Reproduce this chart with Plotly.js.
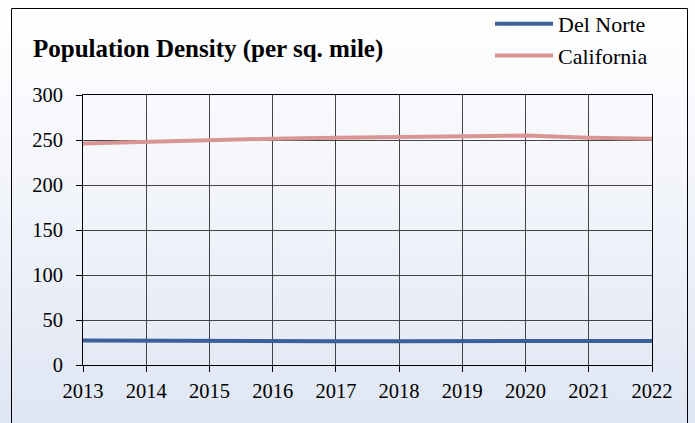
<!DOCTYPE html>
<html>
<head>
<meta charset="utf-8">
<script src="https://cdn.plot.ly/plotly-3.0.1.min.js"></script>
<style>
html,body{margin:0;padding:0;}
#chart{width:695px;height:423px;background:linear-gradient(to bottom,#ffffff 0%,#f4f6fb 40%,#dfe6f3 100%);}
</style>
</head>
<body>
<div id="chart"></div>
<script>
const years = ["2013","2014","2015","2016","2017","2018","2019","2020","2021","2022"];
const delNorte = [27.2, 26.8, 26.0, 26.0, 26.3, 26.5, 26.8, 26.9, 27.3, 26.7];
const california = [246, 248, 249.5, 251.5, 252.5, 253.5, 254.5, 255, 252.5, 251.5];
const seriesNames = ["Del Norte", "California"];
const yTicks = [0, 50, 100, 150, 200, 250, 300];

const L = 83, R = 652, T = 95, B = 365, W = 695, H = 423;
const px2x = p => (p - L) / (R - L);
const py2y = p => (B - p) / (B - T);
const SERIF = "Liberation Serif";

const traces = [
  {x: years, y: delNorte, name: seriesNames[0], type: "scatter", mode: "lines",
   line: {color: "#3b6098", width: 4}},
  {x: years, y: california, name: seriesNames[1], type: "scatter", mode: "lines",
   line: {color: "#d99594", width: 4}}
];

const tickFont = {family: SERIF, size: 20.5, color: "#000"};

const layout = {
  width: W, height: H,
  margin: {l: L, r: W - R, t: T, b: H - B, pad: 0, autoexpand: false},
  paper_bgcolor: "rgba(0,0,0,0)",
  plot_bgcolor: "rgba(0,0,0,0)",
  font: tickFont,
  title: {text: "<b>Population Density (per sq. mile)</b>", x: 33 / W, xanchor: "left",
          xref: "container", y: 1 - 48 / H, yanchor: "middle", yref: "container",
          font: {family: SERIF, size: 25, color: "#000"}},
  showlegend: true,
  legend: {xref: "container", yref: "container", x: 490 / W, xanchor: "left", y: 1 - 3 / H, yanchor: "top",
           bgcolor: "rgba(0,0,0,0)", font: {family: SERIF, size: 22, color: "#000"},
           tracegroupgap: 0, itemwidth: 58},
  xaxis: {type: "category", range: [0, years.length - 1], tickvals: years, ticktext: years,
          showgrid: true, gridcolor: "#444", gridwidth: 1,
          showline: true, linecolor: "#000", linewidth: 1, mirror: true,
          ticks: "outside", ticklen: 6, tickcolor: "#000", tickfont: tickFont,
          ticklabelstandoff: 1, zeroline: false, fixedrange: true, automargin: false},
  yaxis: {range: [0, 300], tickvals: yTicks, ticktext: yTicks.map(String),
          showgrid: true, gridcolor: "#444", gridwidth: 1,
          showline: true, linecolor: "#000", linewidth: 1, mirror: true,
          ticks: "outside", ticklen: 6, tickcolor: "#000", tickfont: tickFont,
          ticklabelstandoff: 9, zeroline: false, fixedrange: true, automargin: false},
  shapes: [
    {type: "rect", xref: "paper", yref: "paper", x0: px2x(11.5), x1: px2x(687.5), y0: py2y(440), y1: py2y(8.5),
     line: {color: "#000", width: 1}, fillcolor: "rgba(0,0,0,0)", layer: "below"}
  ]
};

Plotly.newPlot("chart", traces, layout, {displayModeBar: false, staticPlot: true});
</script>
</body>
</html>
